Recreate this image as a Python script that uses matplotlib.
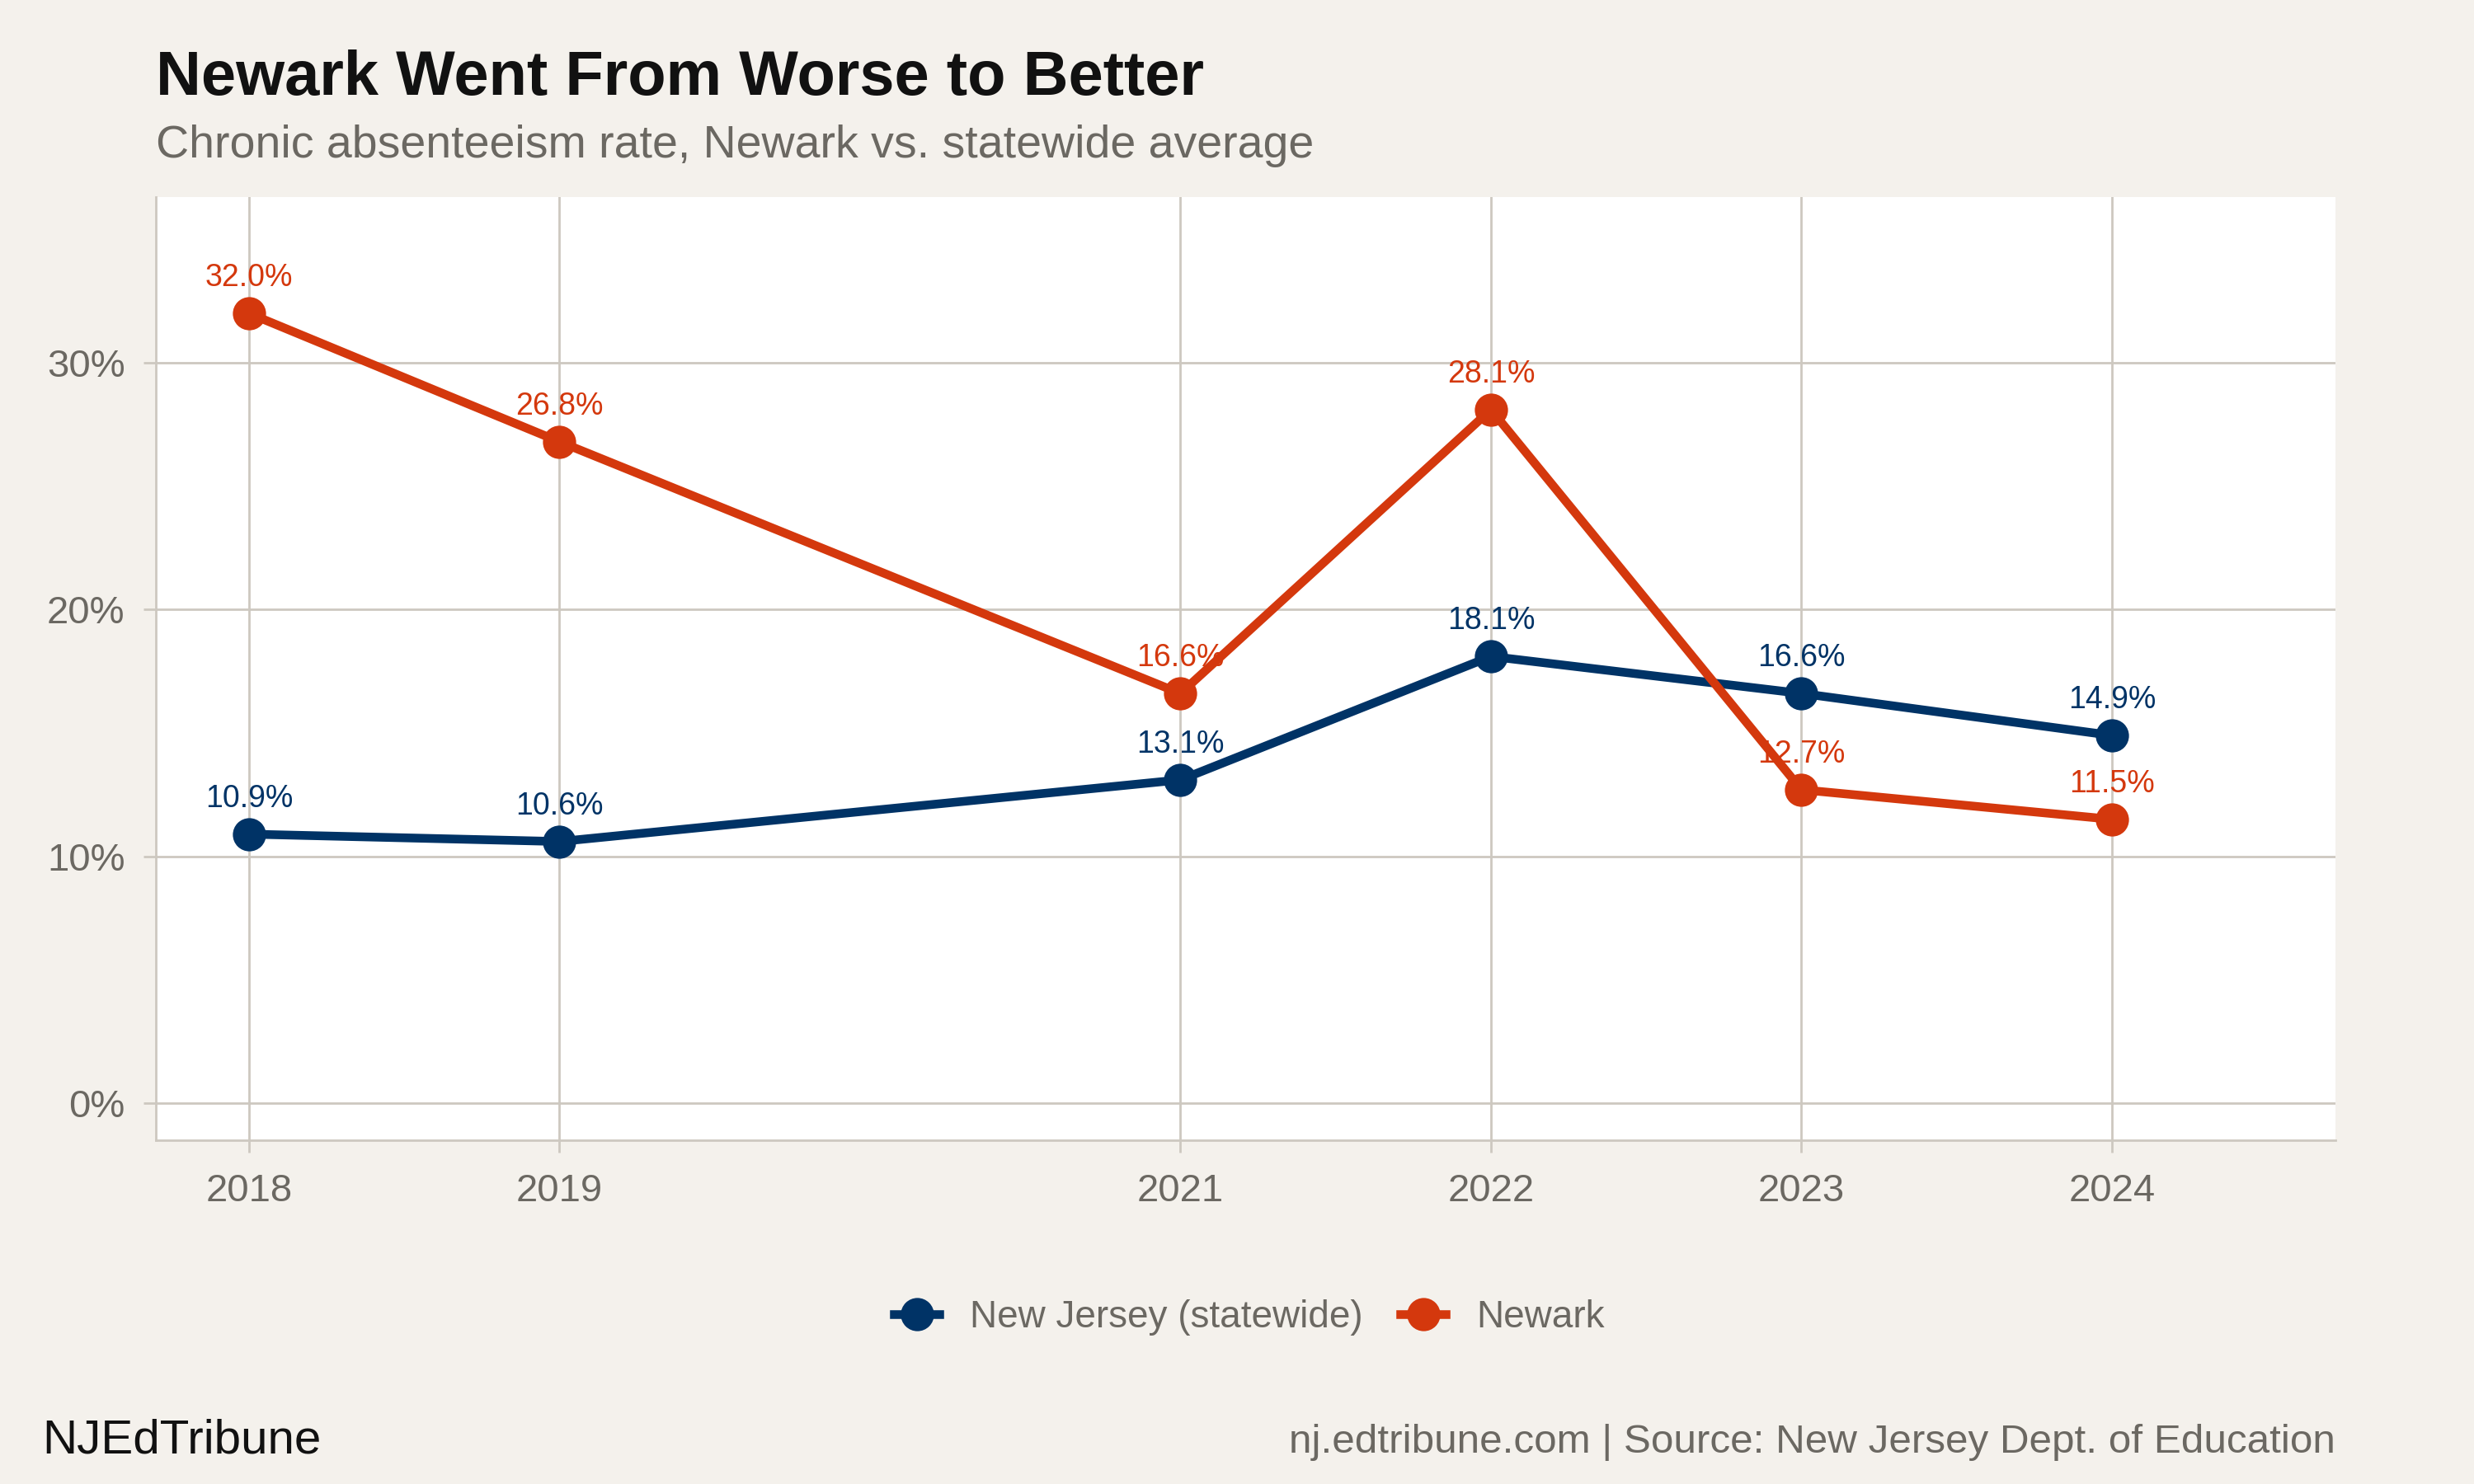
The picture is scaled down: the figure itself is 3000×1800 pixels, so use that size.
import matplotlib
matplotlib.use("Agg")
import matplotlib.pyplot as plt
from matplotlib.lines import Line2D
from matplotlib.ticker import FuncFormatter

years = [2018, 2019, 2021, 2022, 2023, 2024]
nj_rate = [10.9, 10.6, 13.1, 18.1, 16.6, 14.9]
newark_rate = [32.0, 26.8, 16.6, 28.1, 12.7, 11.5]
series_names = ["New Jersey (statewide)", "Newark"]

bg = "#f4f1ec"
grid_col = "#cdc8c0"
text_grey = "#6b6862"
navy = "#003366"
orange = "#d4380d"

plt.rcParams["font.family"] = ["Liberation Sans", "DejaVu Sans"]

fig = plt.figure(figsize=(15, 9), dpi=200, facecolor=bg)
ax = fig.add_axes([0.063, 0.2317, 0.881, 0.6353])
ax.set_facecolor("white")

for vals, col in [(nj_rate, navy), (newark_rate, orange)]:
    ax.plot(years, vals, color=col, lw=3.8, marker="o", ms=13.5,
            solid_capstyle="round", zorder=3)
    for x, v in zip(years, vals):
        ax.annotate(f"{v:.1f}%", (x, v), xytext=(0, 9), textcoords="offset points",
                    ha="center", va="bottom", fontsize=13.5, color=col, zorder=4)

ax.set_xlim(2017.7, 2024.72)
ax.set_ylim(-1.5, 36.7)
ax.set_xticks(years)
ax.set_yticks([0, 10, 20, 30])
ax.yaxis.set_major_formatter(FuncFormatter(lambda v, p: f"{v:.0f}%"))

ax.grid(True, color=grid_col, lw=1.0, zorder=0)
for s in ["top", "right"]:
    ax.spines[s].set_visible(False)
for s in ["left", "bottom"]:
    ax.spines[s].set_color(grid_col)
    ax.spines[s].set_linewidth(1.0)
ax.tick_params(colors=grid_col, labelcolor=text_grey, labelsize=17,
               length=5.5, width=1.0)
ax.tick_params(axis="y", pad=8)
ax.tick_params(axis="x", pad=9)

handles = [Line2D([], [], color=c, lw=3.8, marker="o", ms=13.5) for c in (navy, orange)]
fig.legend(handles, series_names, loc="center", bbox_to_anchor=(0.505, 0.112),
           ncol=2, frameon=False, fontsize=16.5, labelcolor=text_grey,
           handlelength=1.2, handletextpad=0.8, columnspacing=1.0)

fig.text(0.063, 0.936, "Newark Went From Worse to Better", fontsize=27.3,
         fontweight="bold", color="#111111", va="baseline")
fig.text(0.063, 0.894, "Chronic absenteeism rate, Newark vs. statewide average",
         fontsize=20, color=text_grey, va="baseline")
fig.text(0.017, 0.021, "NJEdTribune", fontsize=21, color="#111111", va="baseline")
fig.text(0.944, 0.021, "nj.edtribune.com | Source: New Jersey Dept. of Education",
         fontsize=17.8, color=text_grey, ha="right", va="baseline")

fig.savefig("out.png", dpi=200, facecolor=bg)
